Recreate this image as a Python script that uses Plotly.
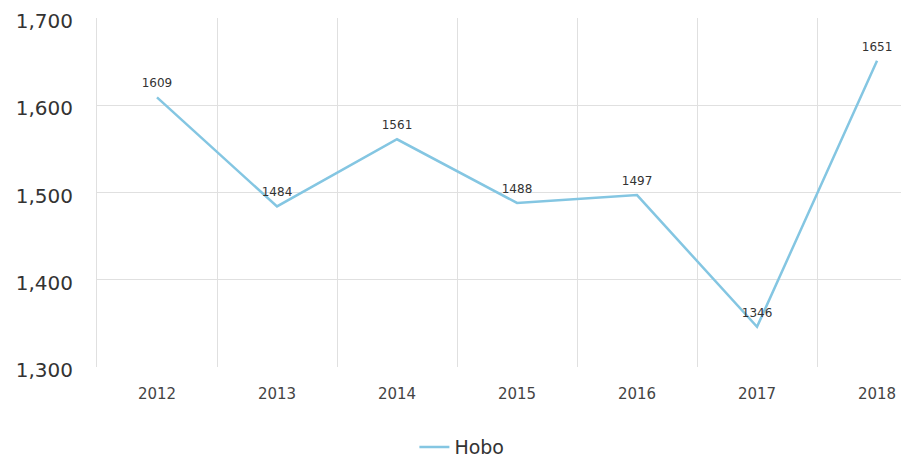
import plotly.graph_objects as go

years = ['2012', '2013', '2014', '2015', '2016', '2017', '2018']
hobo = [1609, 1484, 1561, 1488, 1497, 1346, 1651]

LINE_COLOR = '#84c6e2'
GRID_COLOR = '#e0e0e0'

fig = go.Figure()
fig.add_trace(go.Scatter(
    x=years, y=hobo, mode='lines+markers+text', name='Hobo',
    text=[str(v) for v in hobo], textposition='top center',
    textfont=dict(size=12, color='#333333', family='DejaVu Sans'),
    marker=dict(size=10, color='rgba(0,0,0,0)'),
    line=dict(color=LINE_COLOR, width=2.5),
))

# page body adds an 8px offset, margins are compensated for that
fig.update_layout(
    width=909, height=460,
    margin=dict(l=89, r=0, t=10, b=101),
    paper_bgcolor='white', plot_bgcolor='white',
    font=dict(family='DejaVu Sans', color='#333333'),
    showlegend=True,
    legend=dict(orientation='h', x=0.445, xanchor='center', y=-0.175, yanchor='top',
                font=dict(size=19, color='#333333')),
)
fig.update_xaxes(
    type='category', tickson='boundaries', range=[-0.5, 6.333],
    showgrid=True, gridcolor=GRID_COLOR, gridwidth=1,
    ticks='', tickfont=dict(size=15, color='#444444'), ticklabelstandoff=16,
    showline=False, zeroline=False, automargin=False,
)
fig.update_yaxes(
    range=[1300, 1700], dtick=100, tickformat=',',
    showgrid=True, gridcolor=GRID_COLOR, gridwidth=1,
    tickfont=dict(size=20, color='#333333'), ticklabelstandoff=19,
    ticklabelshift=3, ticklabeloverflow='allow',
    zeroline=False, showline=True, linecolor=GRID_COLOR, linewidth=1,
    automargin=False,
)

fig.write_html('out.html', config={'displayModeBar': False})
